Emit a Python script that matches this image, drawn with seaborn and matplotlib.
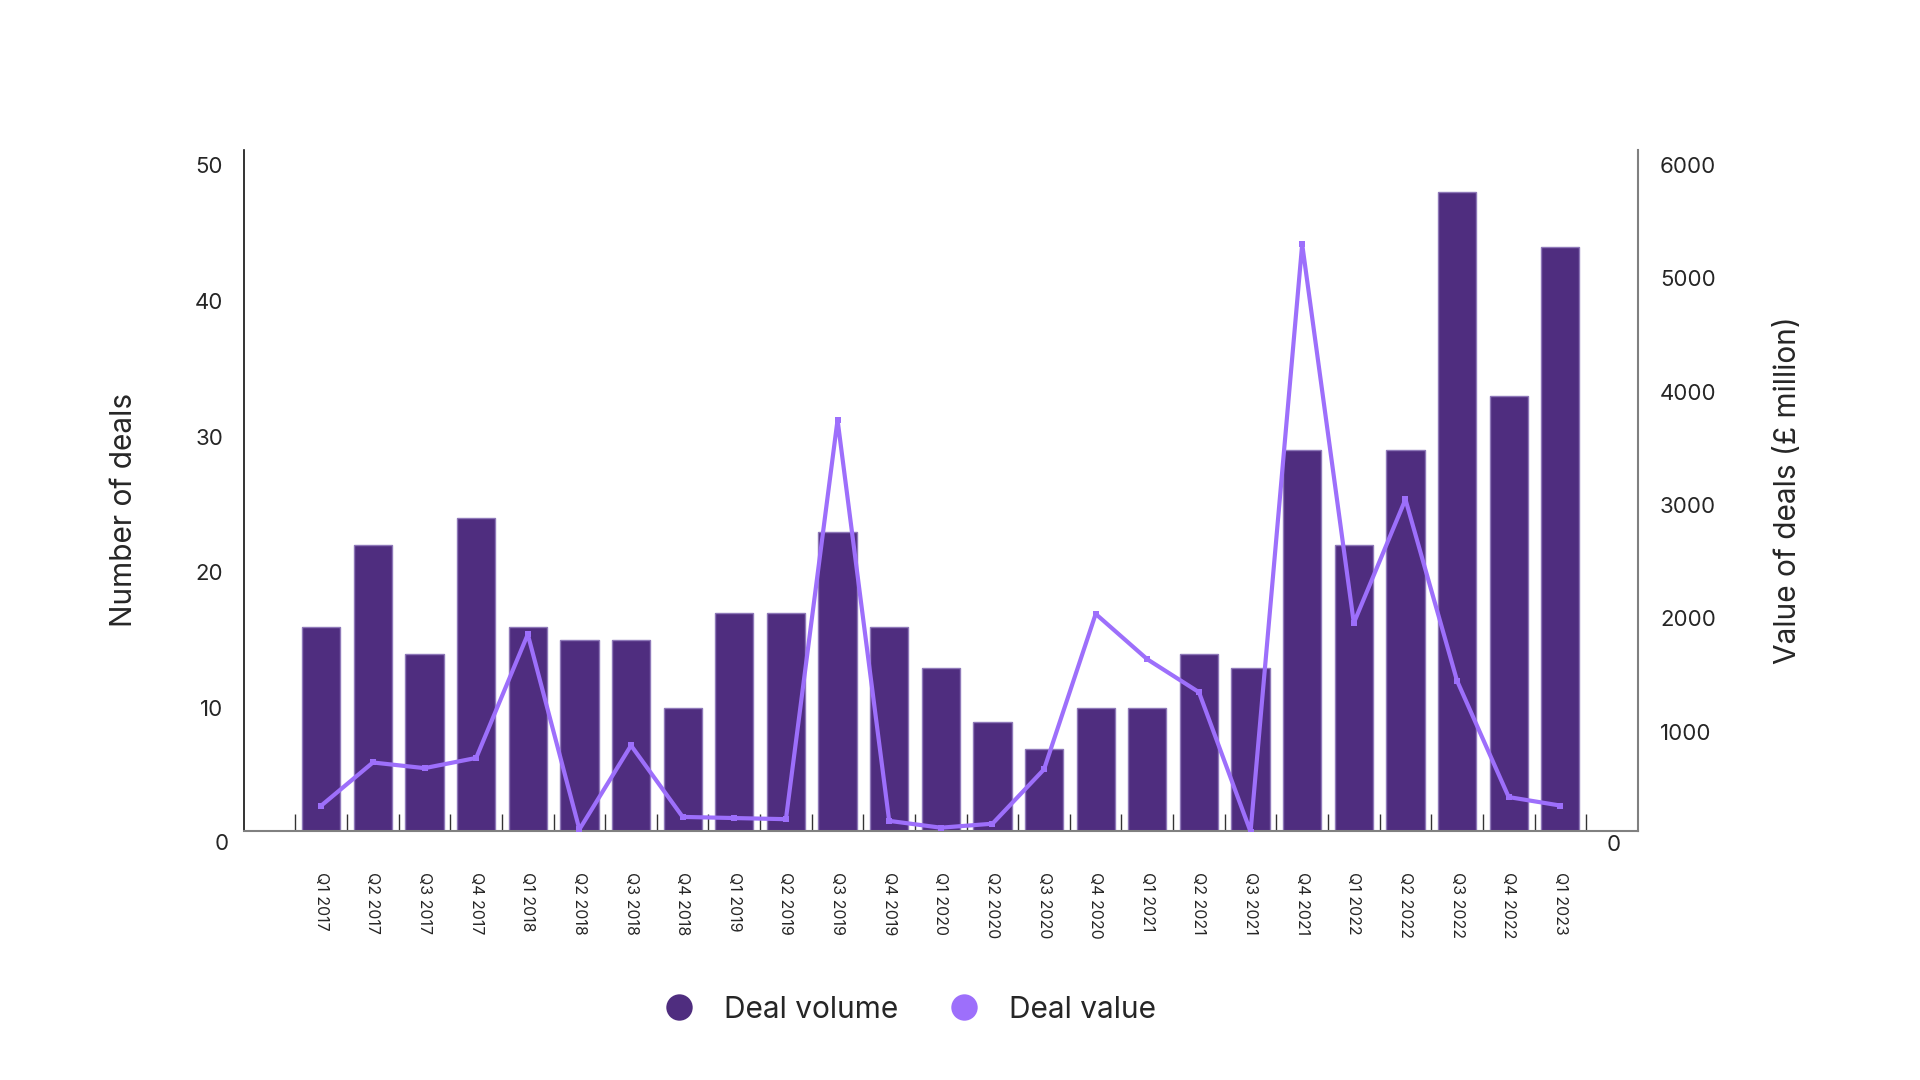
import numpy as np
import pandas as pd
import matplotlib
matplotlib.use("Agg")
import matplotlib.pyplot as plt
from matplotlib.lines import Line2D
import seaborn as sns

# data
quarters = [
    "Q1 2017", "Q2 2017", "Q3 2017", "Q4 2017",
    "Q1 2018", "Q2 2018", "Q3 2018", "Q4 2018",
    "Q1 2019", "Q2 2019", "Q3 2019", "Q4 2019",
    "Q1 2020", "Q2 2020", "Q3 2020", "Q4 2020",
    "Q1 2021", "Q2 2021", "Q3 2021", "Q4 2021",
    "Q1 2022", "Q2 2022", "Q3 2022", "Q4 2022",
    "Q1 2023",
]
deal_volume = [16, 22, 14, 24, 16, 15, 15, 10, 17, 17, 23, 16, 13,
               9, 7, 10, 10, 14, 13, 29, 22, 29, 48, 33, 44]
deal_value = [350, 730, 680, 770, 1860, 140, 880, 250, 240, 230, 3750,
              215, 155, 190, 670, 2040, 1640, 1350, 120, 5300, 1960,
              3050, 1450, 425, 350]

left_ticks = [10, 20, 30, 40, 50]
right_ticks = [1000, 2000, 3000, 4000, 5000, 6000]

BAR_COLOR = "#4f2d7f"
LINE_COLOR = "#9d6ffb"

df = pd.DataFrame({"quarter": quarters, "volume": deal_volume, "value": deal_value})
df["pos"] = np.arange(len(df))

sns.set_theme(style="white")
plt.rcParams["font.family"] = ["Inter", "DejaVu Sans"]

fig = plt.figure(figsize=(19.2, 10.8), dpi=100)
ax = fig.add_axes([0.127, 0.231, 0.726, 0.630])

sns.barplot(data=df, x="quarter", y="volume", color=BAR_COLOR, saturation=1,
            width=0.74, edgecolor="#8e78b8", linewidth=1, ax=ax)

ax2 = ax.twinx()
sns.lineplot(data=df, x="pos", y="value", color=LINE_COLOR, linewidth=3,
             marker="s", markersize=4, markeredgewidth=0, sort=False, ax=ax2)

# axes limits
ax.set_xlim(-1.5, len(quarters) + 0.5)
ax.set_ylim(1, 51.1)
ax2.set_ylim(130, 6130)

# x ticks: labels under bars, small tick marks between bars
ax.set_xticks(df["pos"])
ax.set_xticklabels(quarters, rotation=-90, fontsize=11.5)
ax.set_xticks(np.arange(-0.5, len(quarters)), minor=True)
ax.tick_params(axis="x", which="major", length=0, pad=30)
ax.tick_params(axis="x", which="minor", direction="in", length=12, width=1,
               color="#333333", bottom=True)
ax.set_xlabel("")

ax.set_yticks(left_ticks)
ax.set_yticklabels([str(t) for t in left_ticks], fontsize=16)
ax.tick_params(axis="y", length=0, pad=15)
ax2.set_yticks(right_ticks)
ax2.set_yticklabels([str(t) for t in right_ticks], fontsize=16)
ax2.tick_params(axis="y", length=0, pad=16)

# zero labels sit just below the baseline
ax.annotate("0", xy=(0, 0), xycoords=ax.get_yaxis_transform(), xytext=(-11, 0),
            textcoords="offset points", ha="right", va="center", fontsize=16,
            annotation_clip=False)
ax2.annotate("0", xy=(1, 0), xycoords=ax2.get_yaxis_transform(), xytext=(-12, 0),
             textcoords="offset points", ha="right", va="center", fontsize=16,
             annotation_clip=False)

ax.set_ylabel("Number of deals", fontsize=21.5)
ax.yaxis.set_label_coords(-0.076, 0.471)
ax2.set_ylabel("Value of deals (£ million)", fontsize=21.5)
ax2.yaxis.set_label_coords(1.098, 0.5)

# spines
for a in (ax, ax2):
    a.spines["top"].set_visible(False)
ax2.spines["left"].set_visible(False)
ax2.spines["bottom"].set_visible(False)
ax.spines["right"].set_visible(False)
ax.spines["left"].set_color("#111111")
ax.spines["left"].set_linewidth(1.2)
ax.spines["bottom"].set_color("#808080")
ax.spines["bottom"].set_linewidth(1.5)
ax2.spines["right"].set_color("#808080")
ax2.spines["right"].set_linewidth(1.5)

handles = [
    Line2D([], [], linestyle="none", marker="o", markersize=19,
           markerfacecolor=BAR_COLOR, markeredgewidth=0, label="Deal volume"),
    Line2D([], [], linestyle="none", marker="o", markersize=19,
           markerfacecolor=LINE_COLOR, markeredgewidth=0, label="Deal value"),
]
fig.legend(handles=handles, loc="center", bbox_to_anchor=(0.474, 0.065), ncol=2,
           frameon=False, fontsize=21.5, handlelength=1, handletextpad=1.0,
           columnspacing=1.7)

fig.savefig("out.png", dpi=100)
